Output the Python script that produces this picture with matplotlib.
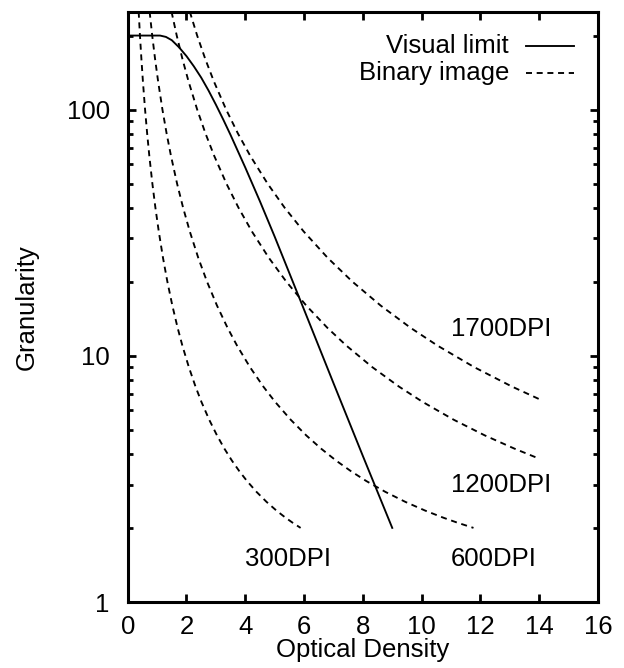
import matplotlib
matplotlib.use("Agg")
import matplotlib.pyplot as plt
from matplotlib.lines import Line2D

# visual limit (solid)
visual_x = [0.0, 1.1, 1.3, 1.5, 1.75, 2.0, 2.25, 2.5, 2.75, 3.0, 3.25, 3.5, 4.0, 4.5, 5.0, 6.0, 7.0, 8.0, 9.0]
visual_y = [200, 200, 197.5, 191.5, 179, 165, 150, 135, 119.6, 104.8, 91.2, 78.9, 58.2, 42.4, 30.5, 15.4, 7.75, 3.92, 2.0]

# binary image (dashed), one curve per resolution, read at these granularity levels
gran_levels = [250, 200, 160, 130, 100, 80, 65, 50, 40, 32, 25, 20, 16, 13, 11, 9, 7.5, 6.5, 5.5,
               4.75, 4.2, 3.75, 3.4, 3.1, 2.8, 2.55, 2.35, 2.2, 2.1, 2.0]
dpi300_x = [0.373, 0.417, 0.467, 0.518, 0.591, 0.662, 0.735, 0.840, 0.942, 1.057, 1.201, 1.350, 1.519, 1.698, 1.860,
            2.080, 2.307, 2.508, 2.773, 3.038, 3.288, 3.547, 3.797, 4.059, 4.384, 4.725, 5.063, 5.370, 5.609, 5.882]
dpi600_x = [0.746, 0.834, 0.933, 1.036, 1.182, 1.324, 1.471, 1.681, 1.884, 2.113, 2.401, 2.699, 3.038, 3.396, 3.720,
            4.159, 4.614, 5.016, 5.546, 6.075, 6.577, 7.094, 7.594, 8.118, 8.769, 9.449, 10.125, 10.739, 11.217, 11.764]
dpi1200_x = [1.491, 1.668, 1.866, 2.072, 2.365, 2.647, 2.941, 3.361, 3.768, 4.226, 4.803, 5.398, 6.075, 6.792, 7.440,
             8.319, 9.229, 10.033, 11.092, 12.150, 13.153, 14.0]
dpi1200_y = [250, 200, 160, 130, 100, 80, 65, 50, 40, 32, 25, 20, 16, 13, 11, 9, 7.5, 6.5, 5.5, 4.75, 4.2, 3.82]
dpi1700_x = [2.113, 2.363, 2.644, 2.935, 3.350, 3.750, 4.167, 4.762, 5.337, 5.987, 6.804, 7.647, 8.607, 9.622, 10.541,
             11.785, 13.074, 14.0]
dpi1700_y = [250, 200, 160, 130, 100, 80, 65, 50, 40, 32, 25, 20, 16, 13, 11, 9, 7.5, 6.67]

dpi_labels = ['300DPI', '600DPI', '1200DPI', '1700DPI']
label_x = [4.0, 11.0, 11.0, 11.0]
label_y = [1.5, 1.5, 3.0, 12.9]

x_ticks = [0, 2, 4, 6, 8, 10, 12, 14, 16]

plt.rcParams['font.family'] = ['Liberation Sans', 'DejaVu Sans']
plt.rcParams['font.size'] = 18.5

fig = plt.figure(figsize=(6.24, 6.68), dpi=100)
ax = fig.add_axes([127.7 / 624, 1 - 602 / 668, (598 - 127.7) / 624, (602 - 11.7) / 668])

lw = 1.35
dash = (3.2, 2.5)
ax.plot(visual_x, visual_y, color='black', lw=lw)
ax.plot(dpi300_x, gran_levels, color='black', lw=lw, dashes=dash)
ax.plot(dpi600_x, gran_levels, color='black', lw=lw, dashes=dash)
ax.plot(dpi1200_x, dpi1200_y, color='black', lw=lw, dashes=dash)
ax.plot(dpi1700_x, dpi1700_y, color='black', lw=lw, dashes=dash)

for name, lx, ly in zip(dpi_labels, label_x, label_y):
	ax.text(lx, ly, name, ha='left', va='center')

ax.set_yscale('log')
ax.set_xlim(0, 16)
ax.set_ylim(1, 250)
ax.set_xticks(x_ticks)
ax.set_xticklabels([str(t) for t in x_ticks])
ax.set_yticks([1, 10, 100])
ax.set_yticklabels(['1', '10', '100'])
ax.tick_params(which='both', direction='in', top=True, right=True, width=2.0)
ax.tick_params(which='major', length=6)
ax.tick_params(axis='x', which='major', pad=9)
ax.tick_params(axis='y', which='major', pad=13)
ax.tick_params(which='minor', length=3.3)
ax.tick_params(axis='x', which='minor', bottom=False, top=False)
for sp in ax.spines.values():
	sp.set_linewidth(2.2)

ax.set_xlabel('Optical Density', labelpad=0)
ax.set_ylabel('Granularity', labelpad=20)

# key, gnuplot style (text right-aligned, sample on the right)
ax.text(0.811, 0.9425, 'Visual limit', transform=ax.transAxes, ha='right', va='center')
ax.text(0.811, 0.897, 'Binary image', transform=ax.transAxes, ha='right', va='center')
ax.add_line(Line2D([0.847, 0.949], [0.9425, 0.9425], transform=ax.transAxes, color='black', lw=lw))
ax.add_line(Line2D([0.847, 0.949], [0.897, 0.897], transform=ax.transAxes, color='black', lw=lw, dashes=dash))

fig.savefig('out.png', dpi=100)
